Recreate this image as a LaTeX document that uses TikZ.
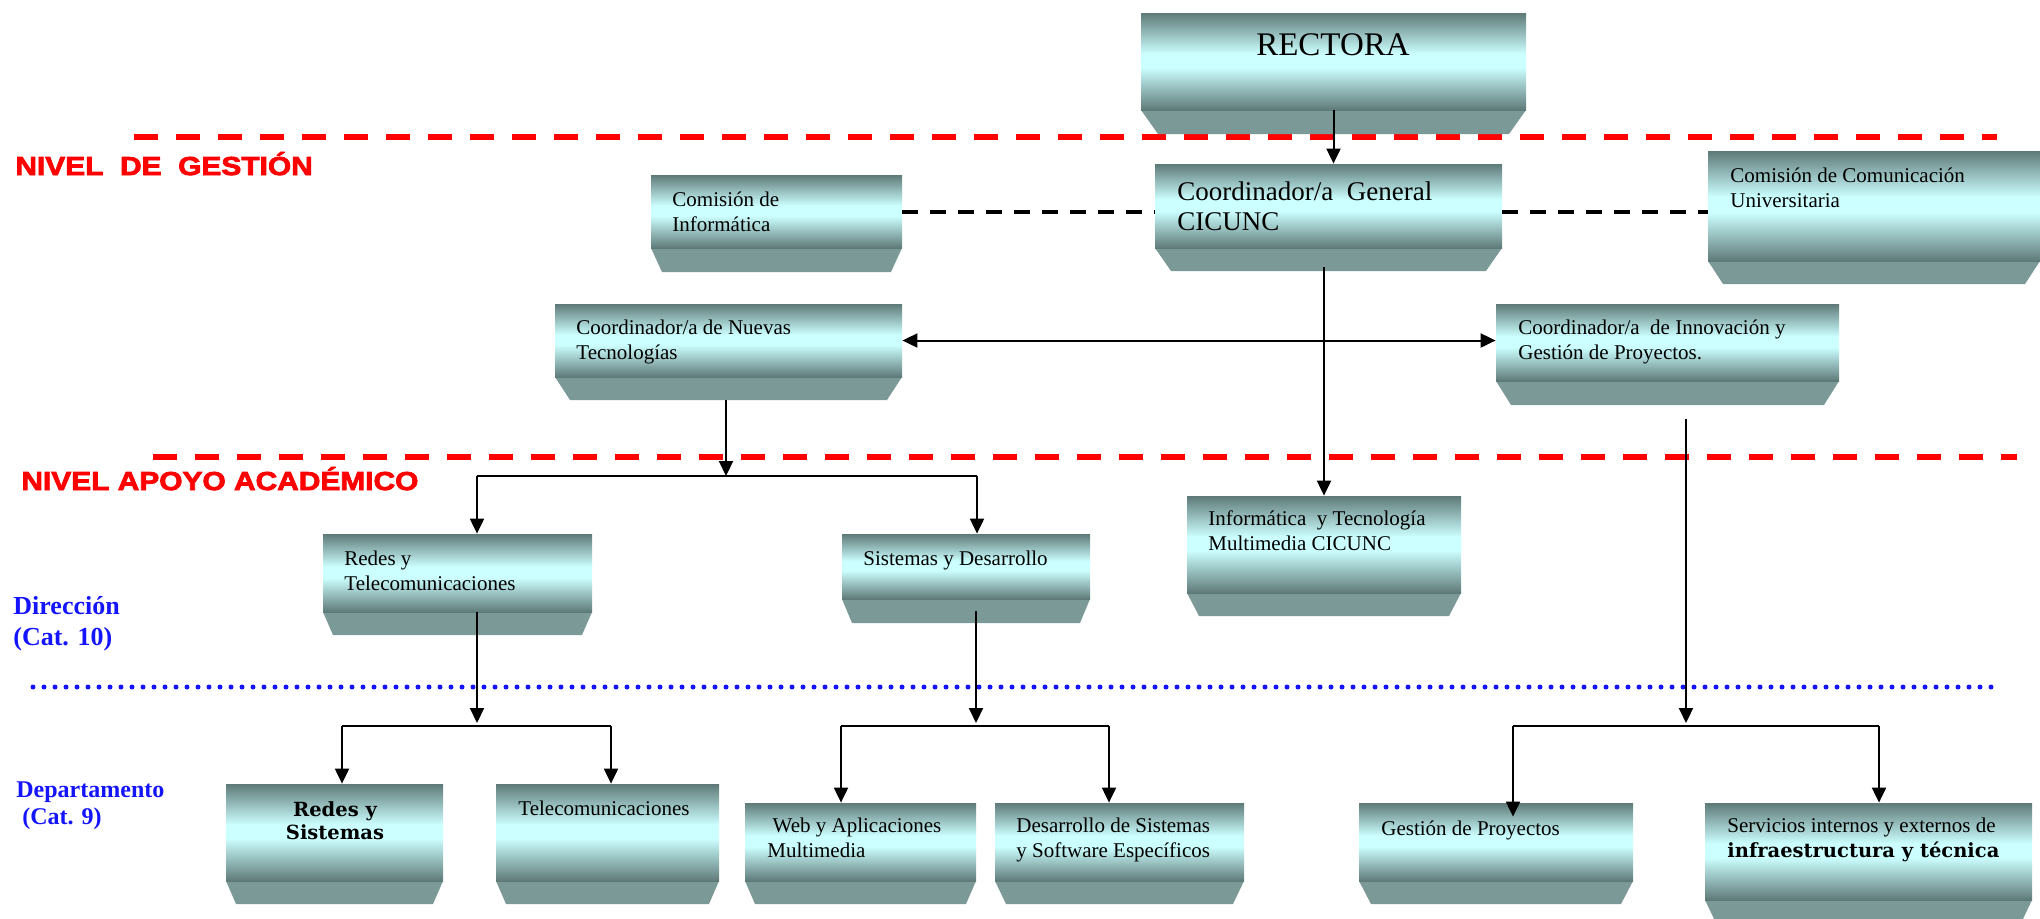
\documentclass[tikz,border=0pt]{standalone}
\usepackage{fontspec}
\setmainfont{Liberation Serif}
\newfontfamily\boldserif{DejaVu Serif Bold}
\newfontfamily\levelfont[FakeStretch=1.15,FakeBold=3]{Liberation Sans Bold}
\usetikzlibrary{arrows.meta,fit,calc}

\definecolor{facedark}{HTML}{5E7A78}
\definecolor{facelight}{HTML}{CCFFFF}
\definecolor{trapcol}{HTML}{7A9997}
\definecolor{levelred}{HTML}{FF0000}
\definecolor{labelblue}{HTML}{1414FF}

% vertical gradient of the box faces (path spans 25bp..75bp)
\pgfdeclareverticalshading{facegrad}{100bp}{%
  color(0bp)=(facedark); color(25bp)=(facedark);
  color(47bp)=(facelight); color(54bp)=(facelight);
  color(75bp)=(facedark); color(100bp)=(facedark)}

% box: name, left, top, right, bottom of face, bottom of base, base inset
\newcommand\orgbox[7]{%
  \fill[trap] (#2,#5) -- (#4,#5) -- (#4-#7,#6) -- (#2+#7,#6) -- cycle;
  \node[face, fit={(#2,#3) (#4,#5)}] (#1) {};
  \coordinate (#1-b) at ({(#2+#4)/2},#6);}

\begin{document}
\begin{tikzpicture}[x=0.5pt, y=-0.5pt,
  face/.style={inner sep=0pt, draw=none, shade, shading=facegrad},
  trap/.style={fill=trapcol},
  % multi-line texts are placed by the baseline of their last line
  boxtext/.style={anchor=base west, inner sep=0pt, align=left,
    font=\fontsize{10.5}{12.25}\selectfont},
  conn/.style={draw=black, line width=1pt},
  arr/.style={conn, -{Triangle[length=7.5pt,width=7pt]}},
  arrboth/.style={conn, {Triangle[length=7.5pt,width=7pt]}-{Triangle[length=7.5pt,width=7pt]}},
  levelline/.style={draw=levelred, line width=2.75pt, dash pattern=on 12pt off 9pt},
  tie/.style={draw=black, line width=2pt, dash pattern=on 8pt off 6pt},
  dotline/.style={draw=labelblue, line width=2.5pt, line cap=round, dash pattern=on 0pt off 5.5pt},
  leveltext/.style={anchor=base west, inner sep=0pt, text=levelred, font=\levelfont\fontsize{13}{13}\selectfont},
  sidetext/.style={anchor=base west, inner sep=0pt, align=left, text=labelblue}
]
\useasboundingbox (0,0) rectangle (2040,918);

% level separators
\draw[levelline] (134,137) -- (1997,137);
\draw[levelline] (153,457) -- (2017,457);
\draw[dotline] (33,687) -- (1993,687);

% level captions
\node[leveltext] (lg) at (15,175) {NIVEL\ \ DE\ \ GESTIÓN};
\node[leveltext] (la) at (21,490) {NIVEL APOYO ACADÉMICO};
\node[sidetext, font=\bfseries\fontsize{13}{15.5}\selectfont] (ldir) at (13,645) {Dirección\\(Cat. 10)};
\node[sidetext, font=\bfseries\fontsize{12}{13.5}\selectfont] (ldep) at (16,824) {Departamento\\\ (Cat. 9)};

% boxes
\orgbox{rect}{1141}{13}{1526}{110}{134}{17}
\orgbox{cg}{1155}{164}{1502}{248}{271}{16}
\orgbox{ci}{651}{175}{902}{248}{272}{11}
\orgbox{cc}{1708}{151}{2040}{261}{284}{15}
\orgbox{nt}{555}{304}{902}{377}{400}{15}
\orgbox{inn}{1496}{304}{1839}{381}{405}{15}
\orgbox{info}{1187}{496}{1461}{593}{616}{12}
\orgbox{rt}{323}{534}{592}{612}{635}{10}
\orgbox{sd}{842}{534}{1090}{599}{623}{10}
\orgbox{rs}{226}{784}{443}{881}{904}{10}
\orgbox{tc}{496}{784}{719}{881}{904}{10}
\orgbox{web}{745}{803}{976}{881}{904}{10}
\orgbox{dss}{995}{803}{1244}{881}{904}{11}
\orgbox{gp}{1359}{803}{1633}{881}{904}{12}
\orgbox{srv}{1705}{803}{2032}{900}{923}{11}

% box texts
\node[anchor=base, inner sep=0pt, font=\fontsize{16.5}{20}\selectfont] (t-rect) at (1333,55) {RECTORA};
\node[boxtext, font=\fontsize{13.5}{15}\selectfont] (t-cg) at (1177,230) {Coordinador/a\ \ General\\CICUNC};
\node[boxtext] (t-ci) at (672,231) {Comisión de\\Informática};
\node[boxtext] (t-cc) at (1730,207) {Comisión de Comunicación\\Universitaria};
\node[boxtext] (t-nt) at (576,359) {Coordinador/a de Nuevas\\Tecnologías};
\node[boxtext] (t-inn) at (1518,359) {Coordinador/a\ \ de Innovación y\\Gestión de Proyectos.};
\node[boxtext] (t-info) at (1208,550) {Informática\ \ y Tecnología\\Multimedia CICUNC};
\node[boxtext] (t-rt) at (344,590) {Redes y\\Telecomunicaciones};
\node[boxtext] (t-sd) at (863,565) {Sistemas y Desarrollo};
\node[anchor=base, inner sep=0pt, align=center, font=\boldserif\fontsize{9.75}{11.25}\selectfont] (t-rs) at (335,839) {Redes y\\Sistemas};
\node[boxtext] (t-tc) at (518,815) {Telecomunicaciones};
\node[boxtext] (t-web) at (767,857) {\ Web y Aplicaciones\\Multimedia};
\node[boxtext] (t-dss) at (1016,857) {Desarrollo de Sistemas\\y Software Específicos};
\node[boxtext] (t-gp) at (1381,835) {Gestión de Proyectos};
\node[boxtext] (t-srv) at (1727,857) {Servicios internos y externos de\\{\boldserif\fontsize{9.75}{12.25}\selectfont infraestructura y técnica}};

% junction points of the branches
\coordinate (ntj) at (726,476);
\coordinate (ntL) at (477,476);
\coordinate (ntR) at (977,476);
\coordinate (rtj) at (477,723);
\coordinate (rtL) at (342,726);
\coordinate (rtR) at (611,726);
\coordinate (sdj) at (976,723);
\coordinate (sdL) at (841,726);
\coordinate (sdR) at (1109,726);
\coordinate (innj) at (1686,723);
\coordinate (innL) at (1513,726);
\coordinate (innR) at (1879,726);

% connectors
\draw[arr] (rect.south) -- (rect.south |- cg.north);
\draw[tie] (ci.east) -- (ci.east -| cg.west);
\draw[tie] (ci.east -| cg.east) -- (ci.east -| cc.west);
\draw[arrboth] (nt.east) -- (nt.east -| inn.west);
\draw[arr] (info.north |- cg-b) ++(0,-4) -- (info.north);

\draw[arr] (nt-b -| ntj) -- (ntj);
\draw[conn] (ntL) -- (ntR);
\draw[arr] (ntL) -- (ntL |- rt.north);
\draw[arr] (ntR) -- (ntR |- sd.north);

\draw[arr] (rt.south -| rtj) -- (rtj);
\draw[conn] (rtL) -- (rtR);
\draw[arr] (rtL) -- (rtL |- rs.north);
\draw[arr] (rtR) -- (rtR |- tc.north);

\draw[arr] (sd.south -| sdj) ++(0,12) -- (sdj);
\draw[conn] (sdL) -- (sdR);
\draw[arr] (sdL) -- (sdL |- web.north);
\draw[arr] (sdR) -- (sdR |- dss.north);

\draw[arr] (inn-b -| innj) ++(0,14) -- (innj);
\draw[conn] (innL) -- (innR);
\draw[arr] (innL) -- ($(innL |- gp.north)+(0,14)$);
\draw[arr] (innR) -- (innR |- srv.north);
\end{tikzpicture}
\end{document}
